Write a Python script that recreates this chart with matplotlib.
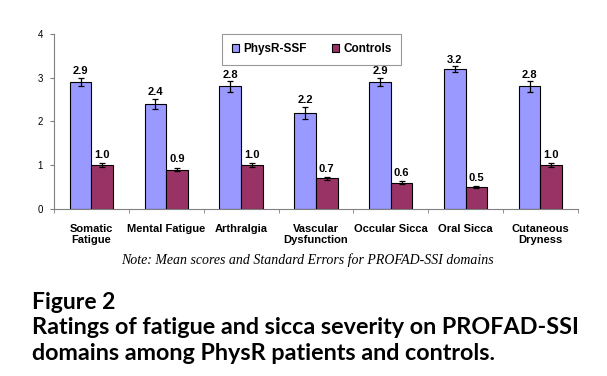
import matplotlib
matplotlib.use("Agg")
import matplotlib.pyplot as plt
import numpy as np

categories = ["Somatic\nFatigue", "Mental Fatigue", "Arthralgia", "Vascular\nDysfunction",
              "Occular Sicca", "Oral Sicca", "Cutaneous\nDryness"]
physr = [2.9, 2.4, 2.8, 2.2, 2.9, 3.2, 2.8]
controls = [1.0, 0.9, 1.0, 0.7, 0.6, 0.5, 1.0]
physr_se = [0.10, 0.12, 0.12, 0.14, 0.10, 0.07, 0.12]
controls_se = [0.04, 0.04, 0.04, 0.03, 0.03, 0.02, 0.05]
physr_labels = ["2.9", "2.4", "2.8", "2.2", "2.9", "3.2", "2.8"]
controls_labels = ["1.0", "0.9", "1.0", "0.7", "0.6", "0.5", "1.0"]
yticks = [0, 1, 2, 3, 4]

fig = plt.figure(figsize=(6.07, 3.76), dpi=100)
ax = fig.add_axes([0.089, 0.444, 0.863, 0.466])

x = np.arange(len(categories))
w = 0.29
c1 = "#9999FF"
c2 = "#993366"
ax.bar(x - w/2, physr, w, color=c1, edgecolor="black", linewidth=0.8, label="PhysR-SSF", zorder=2)
ax.bar(x + w/2, controls, w, color=c2, edgecolor="black", linewidth=0.8, label="Controls", zorder=2)
ax.errorbar(x - w/2, physr, yerr=physr_se, fmt="none", ecolor="black", elinewidth=0.9, capsize=2.5, capthick=0.9, zorder=3)
ax.errorbar(x + w/2, controls, yerr=controls_se, fmt="none", ecolor="black", elinewidth=0.9, capsize=2.5, capthick=0.9, zorder=3)

for xi, v, s, lab in zip(x, physr, physr_se, physr_labels):
    ax.text(xi - w/2, v + s + 0.03, lab, ha="center", va="bottom", fontsize=8, fontweight="bold", family="Liberation Sans")
for xi, v, s, lab in zip(x, controls, controls_se, controls_labels):
    ax.text(xi + w/2, v + s + 0.08, lab, ha="center", va="bottom", fontsize=8, fontweight="bold", family="Liberation Sans")

ax.set_xlim(-0.5, len(categories) - 0.5)
ax.set_ylim(0, 4)
ax.set_yticks(yticks)
ax.set_yticklabels([str(t) for t in yticks], fontsize=7, family="Liberation Sans")
ax.set_xticks(x)
ax.set_xticklabels(categories, fontsize=8, fontweight="bold", family="Liberation Sans", linespacing=1.05)
ax.set_xticks(np.arange(len(categories) + 1) - 0.5, minor=True)
ax.tick_params(axis="x", which="major", length=0, pad=11)
ax.tick_params(axis="x", which="minor", length=3, color="#808080")
ax.tick_params(axis="y", length=3, color="#808080", pad=5)
for sp in ["top", "right"]:
    ax.spines[sp].set_visible(False)
for sp in ["left", "bottom"]:
    ax.spines[sp].set_color("#808080")
    ax.spines[sp].set_linewidth(0.8)

leg = ax.legend(loc="upper left", bbox_to_anchor=(0.321, 1.0), ncol=2, frameon=True, fancybox=False,
                prop={"family": "Liberation Sans", "weight": "bold", "size": 8.5},
                handlelength=0.6, handleheight=0.6, handletextpad=0.35, columnspacing=2.2,
                borderpad=0.8, borderaxespad=0)
leg.get_frame().set_edgecolor("#808080")
leg.get_frame().set_linewidth(0.8)

fig.text(0.507, 0.308, "Note: Mean scores and Standard Errors for PROFAD-SSI domains",
         ha="center", va="center", fontsize=10, style="italic", family="Liberation Serif")
fig.text(0.052, 0.178, "Figure 2", ha="left", va="baseline", fontsize=16.5, fontweight="bold", family="Lato")
fig.text(0.052, 0.112, "Ratings of fatigue and sicca severity on PROFAD-SSI", ha="left", va="baseline",
         fontsize=16.8, fontweight="bold", family="Lato")
fig.text(0.052, 0.043, "domains among PhysR patients and controls.", ha="left", va="baseline",
         fontsize=16.8, fontweight="bold", family="Lato")

fig.savefig("out.png", dpi=100)
